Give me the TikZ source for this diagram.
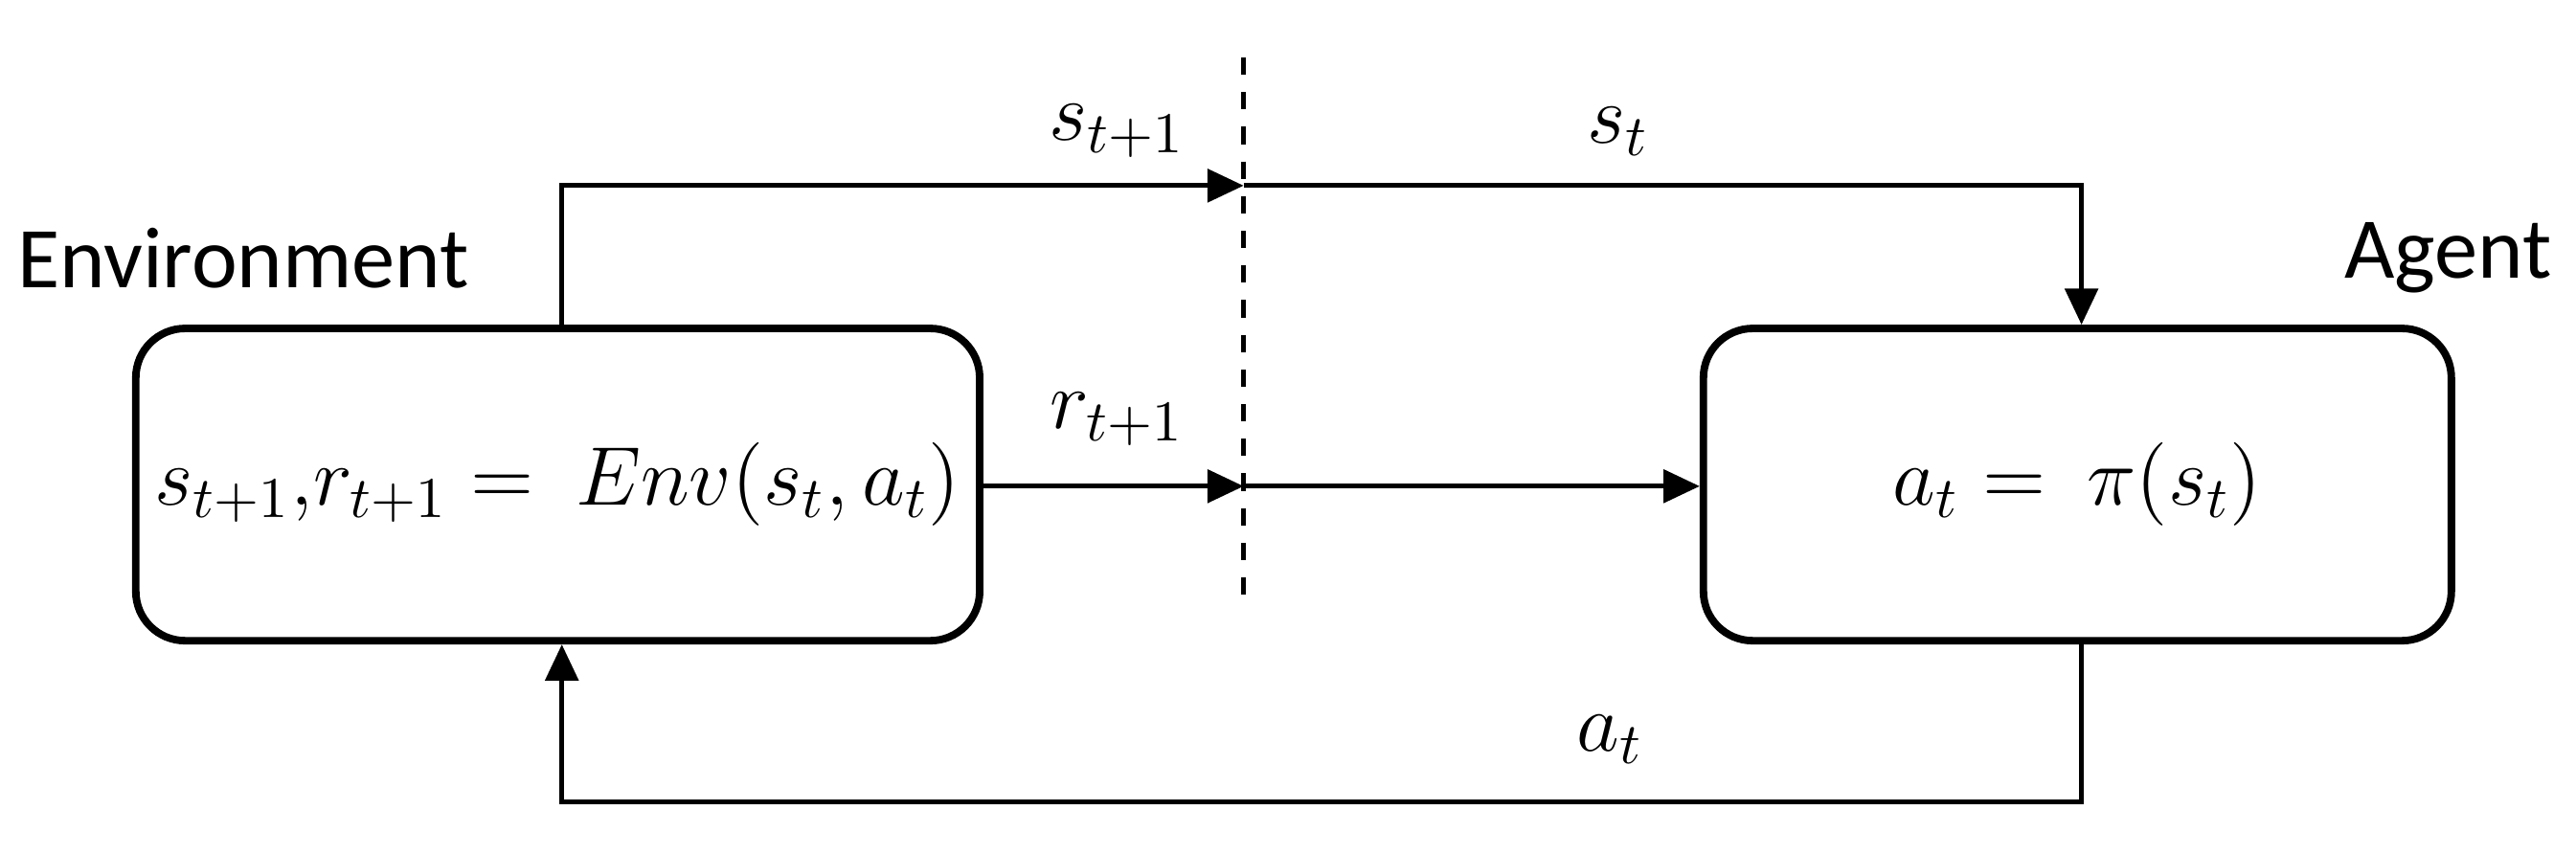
\documentclass[tikz,border=0pt]{standalone}
\usepackage{fontspec}
\setmainfont{Carlito}
\usetikzlibrary{arrows.meta}
\begin{document}
\begin{tikzpicture}[x=0.01cm,y=-0.01cm,
  box/.style={draw,line width=1.3pt,rounded corners=0.3cm,minimum width=5.05cm,minimum height=1.9cm,font=\fontsize{14}{16}\selectfont},
  arr/.style={line width=0.8pt,-{Triangle[length=0.22cm,width=0.2cm]}},
  ln/.style={line width=0.8pt},
  lbl/.style={font=\fontsize{14}{16}\selectfont},
  ttl/.style={font=\fontsize{15}{18}\selectfont}]
\useasboundingbox (0,0) rectangle (1568,520);
\node[box] (env) at (339.5,295) {$s_{t+1}{,}r_{t+1} =\ Env(s_t,a_t)$};
\node[box,minimum width=4.55cm] (agent) at (1264.5,295) {$a_t =\ \pi(s_t)$};
\draw[dashed,line width=0.8pt] (757,35) -- (757,365);
\coordinate (tl) at (342,113);
\coordinate (tm) at (757,113);
\coordinate (tr) at (1267,113);
\coordinate (mm) at (757,296);
\coordinate (bl) at (342,488);
\coordinate (br) at (1267,488);
\draw[arr] (env.north -| tl) -- (tl) -- (tm);
\draw[arr] (tm) -- (tr) -- (agent.north -| tr);
\draw[arr] (env.east |- mm) -- (mm);
\draw[arr] (mm) -- (agent.west |- mm);
\draw[arr] (agent.south -| br) -- (br) -- (bl) -- (env.south -| bl);
\node[lbl] (l1) at (680,80) {$s_{t+1}$};
\node[lbl] (l2) at (985,80) {$s_t$};
\node[lbl] (l3) at (680,255) {$r_{t+1}$};
\node[lbl] (l4) at (980,450) {$a_t$};
\node[ttl] (te) at (148,157) {Environment};
\node[ttl] (ta) at (1490,157) {Agent};
\end{tikzpicture}
\end{document}
